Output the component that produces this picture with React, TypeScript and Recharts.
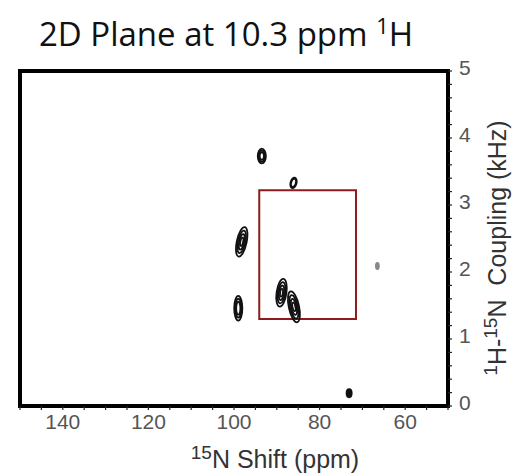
import { ScatterChart, Scatter, XAxis, YAxis, ReferenceArea } from "recharts";

// 15N shift (ppm) and 1H-15N coupling (kHz) of each resolved peak
const peakShift = [93.5, 86.1, 98.2, 99.0, 88.9, 86.0, 66.5, 73.1];
const peakCoupling = [3.73, 3.33, 2.45, 1.46, 1.69, 1.48, 2.09, 0.19];
// apparent line widths
const peakWidthPpm = [1.9, 1.4, 2.3, 1.9, 2.3, 2.4, 0.7, 1.2];
const peakWidthKhz = [0.22, 0.16, 0.45, 0.37, 0.42, 0.47, 0.09, 0.12];
const peakTilt = [0, 15, 12, 0, 8, -12, 0, 0];
const peakLevels = [3, 2, 4, 3, 4, 4, 1, 1];
const peakInk = ["#111", "#111", "#111", "#111", "#111", "#111", "#888", "#111"];

const shiftTicks = [150, 145, 140, 135, 130, 125, 120, 115, 110, 105, 100, 95, 90, 85, 80, 75, 70, 65, 60, 55, 50];
const shiftLabels = [140, 120, 100, 80, 60];
const couplingTicks = [0, 0.2, 0.4, 0.6, 0.8, 1, 1.2, 1.4, 1.6, 1.8, 2, 2.2, 2.4, 2.6, 2.8, 3, 3.2, 3.4, 3.6, 3.8, 4, 4.2, 4.4, 4.6, 4.8, 5];
const couplingLabels = [0, 1, 2, 3, 4, 5];

// boxed region
const boxShift = [94.1, 71.5];
const boxCoupling = [1.3, 3.22];

const SHIFT_DOMAIN = [50, 150];
const COUPLING_DOMAIN = [0, 5];

const W = 529;
const H = 474;
const M = { top: 71, left: 20, right: 21, bottom: 38 };
const Y_AXIS_W = 60;
const X_AXIS_H = 30;
const PLOT_W = W - M.left - M.right - Y_AXIS_W;
const PLOT_H = H - M.top - M.bottom - X_AXIS_H;
const PX_PER_PPM = PLOT_W / (SHIFT_DOMAIN[1] - SHIFT_DOMAIN[0]);
const PX_PER_KHZ = PLOT_H / (COUPLING_DOMAIN[1] - COUPLING_DOMAIN[0]);

const peaks = peakShift.map((s, i) => ({
  shift: s,
  coupling: peakCoupling[i],
  wPpm: peakWidthPpm[i],
  wKhz: peakWidthKhz[i],
  tilt: peakTilt[i],
  levels: peakLevels[i],
  ink: peakInk[i],
}));

function Peak(props: any) {
  const { cx, cy, payload } = props;
  const rx = (payload.wPpm / 2) * PX_PER_PPM;
  const ry = (payload.wKhz / 2) * PX_PER_KHZ;
  const rings = [];
  for (let i = 0; i < payload.levels; i++) {
    const f = 1 - i * 0.24;
    rings.push(
      <ellipse
        key={i}
        cx={cx}
        cy={cy}
        rx={rx * f}
        ry={ry * f}
        fill={payload.levels === 1 ? payload.ink : "none"}
        stroke={payload.ink}
        strokeWidth={1.8}
      />
    );
  }
  return <g transform={`rotate(${payload.tilt} ${cx} ${cy})`}>{rings}</g>;
}

const tickFont = { fontFamily: "Liberation Sans, Arial, sans-serif", fontSize: 21, fill: "#555" };

function ShiftTick({ x, y, payload }: any) {
  if (!shiftLabels.includes(payload.value)) return null;
  return (
    <text x={x} y={y + 19} textAnchor="middle" {...tickFont}>
      {payload.value}
    </text>
  );
}

function CouplingTick({ x, y, payload }: any) {
  if (!couplingLabels.includes(payload.value)) return null;
  return (
    <text x={x + 7} y={y + 4} textAnchor="start" {...tickFont}>
      {payload.value}
    </text>
  );
}

export default function App() {
  return (
    <div style={{ position: "absolute", left: 0, top: 0, width: W, height: H, background: "#fff" }}>
      <ScatterChart width={W} height={H} margin={M}>
        <XAxis
          type="number"
          dataKey="shift"
          domain={SHIFT_DOMAIN}
          reversed
          ticks={shiftTicks}
          interval={0}
          height={X_AXIS_H}
          axisLine={false}
          tickLine={{ stroke: "#222", strokeWidth: 1.2 }}
          tickSize={4}
          tickMargin={0}
          tick={<ShiftTick />}
          allowDataOverflow
        />
        <YAxis
          type="number"
          dataKey="coupling"
          orientation="right"
          domain={COUPLING_DOMAIN}
          ticks={couplingTicks}
          interval={0}
          width={Y_AXIS_W}
          axisLine={false}
          tickLine={{ stroke: "#222", strokeWidth: 1.2 }}
          tickSize={4}
          tickMargin={0}
          tick={<CouplingTick />}
          allowDataOverflow
        />
        <ReferenceArea
          x1={SHIFT_DOMAIN[1]}
          x2={SHIFT_DOMAIN[0]}
          y1={COUPLING_DOMAIN[0]}
          y2={COUPLING_DOMAIN[1]}
          fill="none"
          stroke="#000"
          strokeWidth={4}
          ifOverflow="visible"
        />
        <ReferenceArea
          x1={boxShift[0]}
          x2={boxShift[1]}
          y1={boxCoupling[0]}
          y2={boxCoupling[1]}
          fill="none"
          stroke="#8E1B1B"
          strokeWidth={2}
        />
        <Scatter data={peaks} shape={<Peak />} isAnimationActive={false} />
      </ScatterChart>
      <svg
        width={W}
        height={H}
        style={{ position: "absolute", left: 0, top: 0, pointerEvents: "none" }}
      >
        <text x={226} y={46} textAnchor="middle" fontFamily="Open Sans, sans-serif" fontSize={33} fill="#111">
          2D Plane at 10.3 ppm{" "}
          <tspan fontSize={22} dy={-12}>1</tspan>
          <tspan dy={12}>H</tspan>
        </text>
        <text x={275} y={468} textAnchor="middle" fontFamily="Liberation Sans, Arial, sans-serif" fontSize={25} fill="#333">
          <tspan fontSize={19} dy={-9}>15</tspan>
          <tspan dy={9}>N Shift (ppm)</tspan>
        </text>
        <text
          x={0}
          y={0}
          transform="translate(506 248) rotate(-90)"
          textAnchor="middle"
          fontFamily="Liberation Sans, Arial, sans-serif"
          fontSize={25}
          fill="#333"
          style={{ whiteSpace: "pre" }}
        >
          <tspan fontSize={19} dy={-9}>1</tspan>
          <tspan dy={9}>H-</tspan>
          <tspan fontSize={19} dy={-9}>15</tspan>
          <tspan dy={9}>{"N  Coupling (kHz)"}</tspan>
        </text>
      </svg>
    </div>
  );
}
